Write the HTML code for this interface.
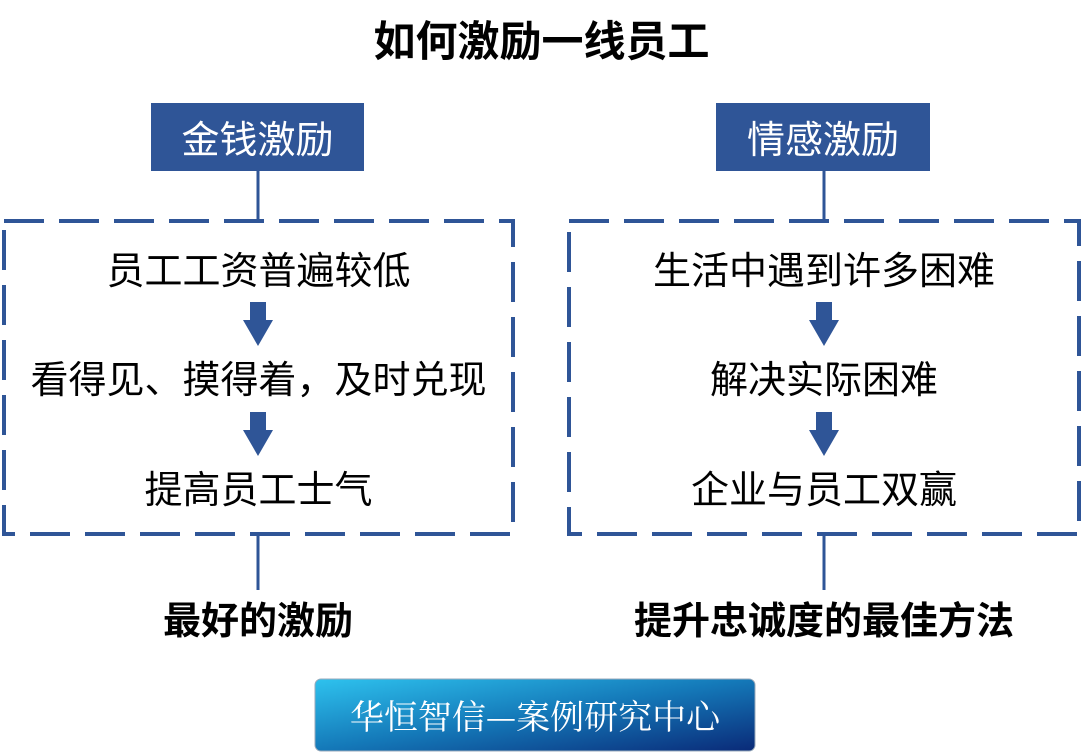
<!DOCTYPE html>
<html><head><meta charset="utf-8"><style>
body{margin:0;width:1083px;height:754px;background:#fff;position:relative;overflow:hidden;font-family:"Liberation Sans","Noto Sans CJK SC",sans-serif;}
.t{position:absolute;white-space:nowrap;text-align:center;color:#000;}
.hdr{position:absolute;background:#2f5597;color:#fff;font-size:38px;text-align:center;line-height:76px;}
</style></head><body>
<div class="t" style="left:0;width:1083px;top:14px;font-size:42px;font-weight:bold;line-height:56px;">如何激励一线员工</div>
<div class="hdr" style="left:151px;top:103px;width:213px;height:68px;">金钱激励</div>
<div class="hdr" style="left:716px;top:103px;width:214px;height:68px;">情感激励</div>
<svg width="1083" height="754" style="position:absolute;left:0;top:0">
<g stroke="#2f5597" stroke-width="4" fill="none">
<rect x="4" y="221" width="509" height="313" stroke-dasharray="40,15"/>
<rect x="569" y="221" width="510" height="313" stroke-dasharray="40,15"/>
</g>
<g stroke="#2f5597" stroke-width="3">
<line x1="258" y1="171" x2="258" y2="221"/><line x1="824" y1="171" x2="824" y2="221"/>
<line x1="258" y1="534" x2="258" y2="590"/><line x1="824" y1="534" x2="824" y2="590"/>
</g>
<g fill="#2f5597">
<polygon points="250,302 266,302 266,320 273,320 258,346 243,320 250,320"/>
<polygon points="250,412 266,412 266,430 273,430 258,456 243,430 250,430"/>
<polygon points="816,302 832,302 832,320 839,320 824,346 809,320 816,320"/>
<polygon points="816,412 832,412 832,430 839,430 824,456 809,430 816,430"/>
</g>
<defs><linearGradient id="g" x1="0" y1="0" x2="1" y2="1"><stop offset="0" stop-color="#2ec2ee"/><stop offset="0.5" stop-color="#1478b8"/><stop offset="1" stop-color="#0a2a78"/></linearGradient></defs>
<rect x="315" y="679" width="440" height="72" rx="6" fill="url(#g)" stroke="#9ab" stroke-width="1"/>
</svg>
<div class="t" style="left:4px;width:509px;top:246px;font-size:38px;line-height:52px;">员工工资普遍较低</div>
<div class="t" style="left:4px;width:509px;top:355px;font-size:38px;line-height:52px;">看得见、摸得着，及时兑现</div>
<div class="t" style="left:4px;width:509px;top:465px;font-size:38px;line-height:52px;">提高员工士气</div>
<div class="t" style="left:569px;width:510px;top:246px;font-size:38px;line-height:52px;">生活中遇到许多困难</div>
<div class="t" style="left:569px;width:510px;top:355px;font-size:38px;line-height:52px;">解决实际困难</div>
<div class="t" style="left:569px;width:510px;top:465px;font-size:38px;line-height:52px;">企业与员工双赢</div>
<div class="t" style="left:58px;width:400px;top:596px;font-size:38px;font-weight:bold;line-height:52px;">最好的激励</div>
<div class="t" style="left:574px;width:500px;top:596px;font-size:38px;font-weight:bold;line-height:52px;">提升忠诚度的最佳方法</div>
<div class="t" style="left:315px;width:440px;top:690px;font-size:34px;line-height:50px;color:#fff;font-family:'Noto Serif CJK SC',serif;">华恒智信—案例研究中心</div>
</body></html>
